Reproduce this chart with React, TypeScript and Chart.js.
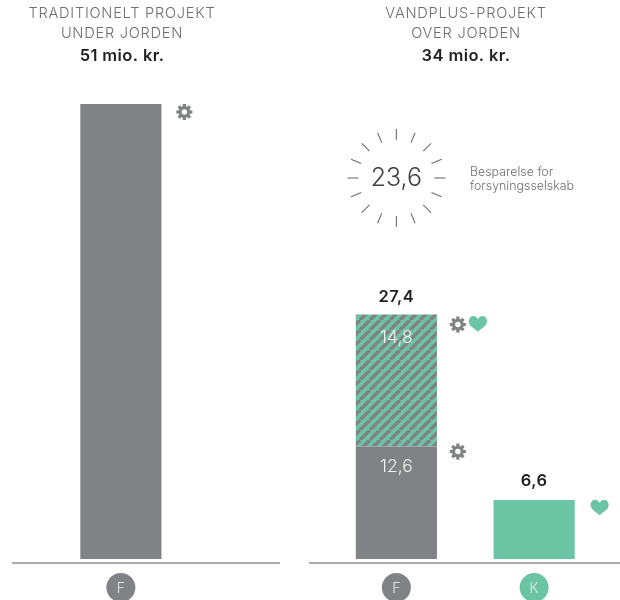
import React, { useEffect, useRef } from "react";
import { Chart, registerables } from "chart.js";

Chart.register(...registerables);

const categories = ["F", "", "F", "K"];
const utilityValues = [51, null, 12.6, null];
const sharedValues = [null, null, 14.8, null];
const customerValues = [null, null, null, 6.6];
const stackTotals = [null, null, "27,4", "6,6"];
const segmentLabels = ["12,6", "14,8"];
const savingLabel = "23,6";
const savingNote = ["Besparelse for", "forsyningsselskab"];
const leftTitle = ["TRADITIONELT PROJEKT", "UNDER JORDEN"];
const leftTotal = "51 mio. kr.";
const rightTitle = ["VANDPLUS-PROJEKT", "OVER JORDEN"];
const rightTotal = "34 mio. kr.";

const GRAY = "#808285";
const TEAL = "#6bc5a5";
const FONT = "Inter, 'Open Sans', sans-serif";

function hatch(): CanvasPattern | string {
  const size = 10;
  const c = document.createElement("canvas");
  c.width = size;
  c.height = size;
  const g = c.getContext("2d");
  if (!g) return GRAY;
  g.fillStyle = TEAL;
  g.fillRect(0, 0, size, size);
  g.strokeStyle = GRAY;
  g.lineWidth = 3.5;
  for (let i = -size; i <= size * 2; i += size) {
    g.beginPath();
    g.moveTo(i - size, size);
    g.lineTo(i, 0);
    g.stroke();
  }
  return g.createPattern(c, "repeat") ?? GRAY;
}

function gear(ctx: CanvasRenderingContext2D, x: number, y: number, r: number) {
  ctx.save();
  ctx.translate(x, y);
  ctx.fillStyle = GRAY;
  ctx.beginPath();
  ctx.arc(0, 0, r * 0.74, 0, Math.PI * 2);
  ctx.fill();
  for (let i = 0; i < 8; i++) {
    ctx.save();
    ctx.rotate((i * Math.PI) / 4);
    ctx.fillRect(-r * 0.2, -r, r * 0.4, r * 0.5);
    ctx.restore();
  }
  ctx.fillStyle = "#fff";
  ctx.beginPath();
  ctx.arc(0, 0, r * 0.34, 0, Math.PI * 2);
  ctx.fill();
  ctx.restore();
}

function heart(ctx: CanvasRenderingContext2D, x: number, y: number, r: number) {
  ctx.save();
  ctx.translate(x, y);
  ctx.fillStyle = TEAL;
  ctx.beginPath();
  ctx.moveTo(0, r * 0.9);
  ctx.bezierCurveTo(-r * 0.4, r * 0.55, -r * 1.1, r * 0.2, -r, -r * 0.35);
  ctx.bezierCurveTo(-r * 0.92, -r * 0.95, -r * 0.2, -r * 0.98, 0, -r * 0.45);
  ctx.bezierCurveTo(r * 0.2, -r * 0.98, r * 0.92, -r * 0.95, r, -r * 0.35);
  ctx.bezierCurveTo(r * 1.1, r * 0.2, r * 0.4, r * 0.55, 0, r * 0.9);
  ctx.fill();
  ctx.restore();
}

function text(
  ctx: CanvasRenderingContext2D,
  s: string,
  x: number,
  y: number,
  font: string,
  color: string,
  align: CanvasTextAlign = "center",
  spacing = 0
) {
  ctx.font = font;
  ctx.fillStyle = color;
  ctx.textAlign = align;
  ctx.textBaseline = "middle";
  (ctx as any).letterSpacing = `${spacing}px`;
  ctx.fillText(s, x, y);
  (ctx as any).letterSpacing = "0px";
}

const artwork = {
  id: "artwork",
  beforeDraw(chart: any) {
    const { ctx, scales } = chart;
    ctx.save();
    categories.forEach((c, i) => {
      if (!c) return;
      ctx.fillStyle = c === "K" ? TEAL : GRAY;
      ctx.beginPath();
      ctx.arc(scales.x.getPixelForValue(i), 587.5, 14.5, 0, Math.PI * 2);
      ctx.fill();
    });
    ctx.restore();
  },
  afterDatasetsDraw(chart: any) {
    const { ctx, chartArea, scales } = chart;
    const x = (i: number) => scales.x.getPixelForValue(i);
    const y = (v: number) => scales.y.getPixelForValue(v);
    const barRight = (i: number) => x(i) + 40.5;
    ctx.save();

    // baselines
    ctx.strokeStyle = "#a9abad";
    ctx.lineWidth = 2;
    const base = chartArea.bottom + 4;
    [[12, 280], [309, 620]].forEach(([a, b]) => {
      ctx.beginPath();
      ctx.moveTo(a, base);
      ctx.lineTo(b, base);
      ctx.stroke();
    });

    // titles
    const titleFont = `300 14.6px ${FONT}`;
    const totalFont = `600 16.5px ${FONT}`;
    leftTitle.forEach((t, i) => text(ctx, t, 122, 14 + i * 19.5, titleFont, "#6d6e71", "center", 0.75));
    text(ctx, leftTotal, 122, 56, totalFont, "#231f20", "center", 0.4);
    rightTitle.forEach((t, i) => text(ctx, t, 466, 14 + i * 19.5, titleFont, "#6d6e71", "center", 0.75));
    text(ctx, rightTotal, 466, 56, totalFont, "#231f20", "center", 0.4);

    // values
    const stackTop = y((sharedValues[2] as number) + (utilityValues[2] as number));
    text(ctx, stackTotals[2] as string, x(2), stackTop - 18, totalFont, "#231f20", "center", 0.4);
    text(ctx, stackTotals[3] as string, x(3), y(customerValues[3] as number) - 19, totalFont, "#231f20", "center", 0.4);
    const valueFont = `300 17.5px ${FONT}`;
    text(ctx, segmentLabels[1], x(2), stackTop + 23, valueFont, "#f1f2f2");
    text(ctx, segmentLabels[0], x(2), y(utilityValues[2] as number) + 20, valueFont, "#f1f2f2");

    // icons
    gear(ctx, barRight(0) + 23, y(utilityValues[0] as number) + 8, 8);
    gear(ctx, barRight(2) + 21, stackTop + 10, 8);
    heart(ctx, barRight(2) + 41, stackTop + 9, 9);
    gear(ctx, barRight(2) + 21, y(utilityValues[2] as number) + 5, 8);
    heart(ctx, barRight(3) + 25, y(customerValues[3] as number) + 7, 9);

    // saving burst
    const cx = x(2);
    const cy = 178;
    ctx.strokeStyle = "#6d6e71";
    ctx.lineWidth = 1.1;
    for (let i = 0; i < 16; i++) {
      const a = (i * Math.PI) / 8;
      ctx.beginPath();
      ctx.moveTo(cx + Math.cos(a) * 38, cy + Math.sin(a) * 38);
      ctx.lineTo(cx + Math.cos(a) * 49, cy + Math.sin(a) * 49);
      ctx.stroke();
    }
    text(ctx, savingLabel, cx, cy, `300 25px ${FONT}`, "#414042");
    savingNote.forEach((t, i) => text(ctx, t, 470, 172 + i * 14, `300 12.4px ${FONT}`, "#6d6e71", "left"));
    ctx.restore();
  },
};

export default function App() {
  const ref = useRef<HTMLCanvasElement | null>(null);
  useEffect(() => {
    document.body.style.margin = "0";
    const canvas = ref.current;
    if (!canvas) return;
    const chart = new Chart(canvas, {
      type: "bar",
      data: {
        labels: categories,
        datasets: [
          { label: "Forsyningsselskab", data: utilityValues, backgroundColor: GRAY },
          { label: "Fælles", data: sharedValues, backgroundColor: hatch() },
          { label: "Kunde", data: customerValues, backgroundColor: TEAL },
        ],
      },
      options: {
        animation: false,
        responsive: false,
        layout: { padding: { left: 52, right: 17, top: 104, bottom: 0 } },
        plugins: { legend: { display: false }, tooltip: { enabled: false } },
        datasets: { bar: { barPercentage: 1, categoryPercentage: 0.589 } },
        scales: {
          x: {
            stacked: true,
            grid: { display: false, drawTicks: false },
            border: { display: false },
            afterFit: (s: any) => { s.height = 41; },
            ticks: { color: "#e6e7e8", padding: 21, font: { family: FONT, size: 14, weight: 300 }, maxRotation: 0, autoSkip: false },
          },
          y: { stacked: true, display: false, min: 0, max: 51 },
        },
      } as any,
      plugins: [artwork],
    });
    return () => chart.destroy();
  }, []);
  return <canvas ref={ref} width={620} height={600} style={{ display: "block", filter: "blur(0.4px)" }} />;
}
